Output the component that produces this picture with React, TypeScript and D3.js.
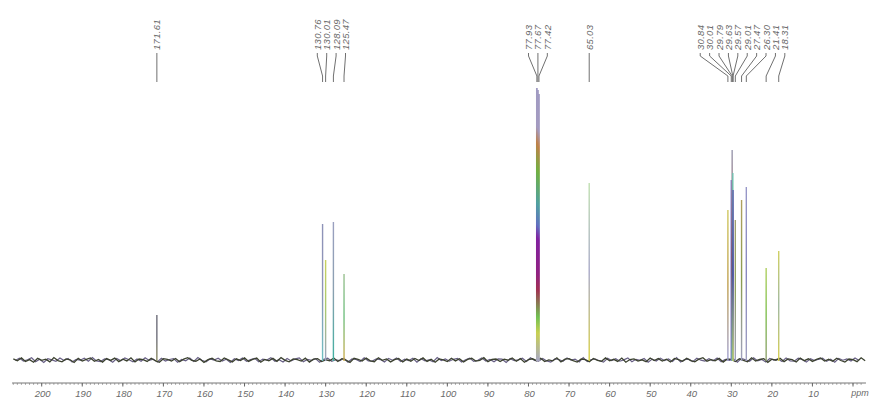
import React from 'react';
import * as d3 from 'd3';

// chemical shifts (ppm), peak heights (arbitrary intensity), labels
const peakShifts = [171.61, 130.76, 130.01, 128.09, 125.47, 77.93, 77.67, 77.42, 65.03, 30.84, 30.01, 29.79, 29.63, 29.57, 29.01, 27.47, 26.3, 21.41, 18.31];
const peakHeights = [45, 136, 100, 138, 86, 272, 270, 266, 177, 150, 180, 210, 187, 170, 140, 160, 173, 92, 109];
const peakLabels = ['171.61', '130.76', '130.01', '128.09', '125.47', '77.93', '77.67', '77.42', '65.03', '30.84', '30.01', '29.79', '29.63', '29.57', '29.01', '27.47', '26.30', '21.41', '18.31'];

const tickValues = [200, 190, 180, 170, 160, 150, 140, 130, 120, 110, 100, 90, 80, 70, 60, 50, 40, 30, 20, 10];
const minorTickValues = d3.range(207, -3, -1);

// baseline noise, one value per ppm from 207 down to -3
const noiseStartPpm = 207;
const noise = [
  1.2, -0.8, 2.1, -1.5, 0.4, -2.2, 1.7, -0.3, 0.9, -1.9,
  2.4, -0.6, -1.8, 1.1, 0.2, -2.5, 1.6, -1.0, 0.7, 2.0,
  -1.3, 0.5, -2.1, 1.4, -0.4, 1.9, -1.6, 0.8, -0.9, 2.2,
  -2.0, 1.0, 0.3, -1.4, 1.8, -0.7, -2.3, 1.3, 0.6, -1.1,
  1.5, -1.7, 0.9, 2.3, -0.5, -1.2, 1.0, -2.4, 0.4, 1.7,
  -0.8, -1.5, 2.0, 0.1, -1.9, 1.2, -0.6, 2.1, -1.4, 0.7,
  1.9, -2.2, 0.5, -0.9, 1.6, -1.3, 2.4, -0.4, -1.8, 1.1,
  0.3, -1.0, 1.8, -2.1, 0.8, 1.4, -1.6, 0.2, -0.7, 2.0,
  -1.5, 1.3, -0.2, -2.4, 1.7, 0.6, -1.1, 1.9, -0.8, -1.7,
  2.2, -0.3, 1.0, -1.9, 0.4, 1.5, -2.0, 0.9, -1.2, 1.6,
  -0.5, 2.1, -1.4, 0.7, -2.2, 1.1, 0.2, -1.6, 1.8, -0.9,
  1.3, -2.0, 0.6, 1.7, -1.1, -0.4, 2.3, -1.8, 0.5, 1.0,
  -1.6, 0.9, -0.2, 2.0, -1.3, 1.4, -2.3, 0.3, 1.2, -0.7,
  1.8, -1.5, 0.1, -0.9, 2.2, -1.9, 0.8, 1.3, -0.6, -2.1,
  1.0, 0.4, -1.7, 1.6, -0.3, -1.2, 2.1, -0.8, 0.7, -1.4,
  1.9, -2.2, 0.5, 1.1, -1.0, 0.2, -1.8, 2.0, -0.5, 1.4,
  -1.1, 0.8, -2.0, 1.5, 0.3, -1.3, 1.7, -0.6, -1.9, 0.9,
  2.3, -1.2, 0.4, -0.8, 1.6, -2.1, 1.0, 0.6, -1.5, 1.2,
  -0.4, -1.8, 2.2, -0.9, 0.5, 1.4, -2.3, 0.8, -0.2, 1.7,
  -1.6, 1.1, 0.3, -2.0, 1.9, -0.7, 1.2, -1.4, 0.6, 2.1,
  -1.0, 0.7, -1.3, 1.8, -0.5, -2.0, 1.0, 0.4, -1.6, 2.2,
  -0.8,
];
// second noise trace, half a ppm offset
const noiseB = [
  -0.6, 1.9, -1.1, 0.3, 2.2, -1.7, 0.8, -2.4, 1.3, 0.1,
  -1.4, 2.0, -0.5, 1.6, -2.1, 0.7, -0.2, 1.8, -1.2, 2.5,
  -0.9, -1.6, 1.2, 0.4, -2.3, 1.5, -0.7, 2.1, 0.2, -1.8,
  1.0, -1.3, 2.3, -0.4, 0.9, -2.0, 1.7, -1.1, 0.5, 1.4,
  -2.2, 0.6, -0.8, 1.9, -1.5, 2.4, -0.3, -1.9, 1.1, 0.0,
  1.8, -1.0, 0.7, -2.5, 1.3, -0.6, 2.0, -1.4, 0.4, 1.6,
  -1.7, 0.9, -0.1, 2.2, -1.2, 0.3, -2.0, 1.5, -0.9, 1.1,
  2.1, -1.8, 0.6, -0.4, 1.4, -2.3, 0.8, 1.9, -1.3, 0.2,
  -0.7, 1.7, -2.1, 1.0, 0.5, -1.5, 2.3, -0.8, -1.1, 1.2,
  0.4, -1.9, 1.6, -0.2, 2.0, -1.6, 0.9, -0.5, 1.8, -2.2,
  1.3, -0.9, 0.1, -1.7, 2.4, -0.6, 1.0, -1.2, 0.7, 1.5,
  -2.0, 0.3, 1.9, -1.4, -0.3, 2.1, -1.0, 0.6, -1.8, 1.1,
  0.8, -2.4, 1.4, -0.7, 0.2, 1.7, -1.5, 2.2, -0.4, -1.1,
  1.6, -0.9, -2.0, 1.2, 0.5, -1.3, 2.0, -0.2, 0.9, -1.9,
  2.3, -1.6, 0.4, 1.0, -0.8, -2.1, 1.8, -0.5, 1.3, -1.2,
  0.1, 2.1, -1.7, 0.7, -0.3, 1.5, -2.3, 0.9, -1.0, 1.9,
  -0.6, 1.1, -1.4, 2.4, -2.0, 0.3, 0.8, -1.6, 1.7, -0.2,
  -1.1, 1.4, -0.7, 2.0, -1.8, 0.6, -0.4, 1.2, -2.2, 1.6,
  0.2, -1.3, 2.2, -0.9, 0.5, -1.9, 1.5, -0.1, 1.0, -1.5,
  2.1, -0.8, -1.2, 1.8, 0.4, -2.1, 1.3, -0.6, 0.7, 1.9,
  -1.4, 0.9, -2.3, 1.6, -0.2, 1.1, -1.0, 2.0, -0.5,
];

// styles (kept apart from the data)
const rainbow = [
  [0, '#a09ac2'], [0.14, '#a39ac0'], [0.2, '#c08048'], [0.3, '#70b040'], [0.42, '#4fa0a0'],
  [0.5, '#6070c0'], [0.55, '#8020a0'], [0.68, '#902080'], [0.74, '#a03050'], [0.84, '#70c050'],
  [0.9, '#c8d050'], [1, '#a8a8c0'],
];
const peakColors = [
  ['#6e6e7a', '#6e6e7a', '#8a8a60'],
  ['#8e93b8', '#8e93b8', '#6fc0c0'],
  ['#c8d060', '#a8c870', '#9aa0c0'],
  ['#9aa0c0', '#8aa0b0', '#40b0a0'],
  ['#9ac090', '#70c080', '#d0b050'],
  null, null, null,
  ['#c0e0b0', '#a8a8c8', '#d8d040'],
  ['#d0c860', '#c0a050', '#a0a0d0'],
  ['#8080d0', '#5050c0', '#8070c0'],
  ['#9a9ab0', '#a05040', '#70c0a0'],
  ['#70c0b0', '#50b090', '#70d0a0'],
  ['#6060b0', '#4030a0', '#c0c060'],
  ['#a0a070', '#90a060', '#a0a0c0'],
  ['#b0a060', '#8a9a50', '#a0a0c0'],
  ['#9898c8', '#8888c0', '#a0a0c0'],
  ['#b0d060', '#80c050', '#90a070'],
  ['#d0d060', '#a0b8a0', '#d8d050'],
];

const W = 879;
const H = 412;
const baseY = 360;
const axisY = 383;

function layoutLabels(xs: number[], gap: number): number[] {
  let clusters = xs.map((x, i) => ({ idx: [i], sum: x }));
  let changed = true;
  while (changed) {
    changed = false;
    for (let i = 0; i < clusters.length - 1; i++) {
      const a = clusters[i];
      const b = clusters[i + 1];
      const aEnd = a.sum / a.idx.length + ((a.idx.length - 1) * gap) / 2;
      const bStart = b.sum / b.idx.length - ((b.idx.length - 1) * gap) / 2;
      if (bStart - aEnd < gap) {
        clusters.splice(i, 2, { idx: a.idx.concat(b.idx), sum: a.sum + b.sum });
        changed = true;
        break;
      }
    }
  }
  const out: number[] = new Array(xs.length);
  clusters.forEach((c) => {
    const n = c.idx.length;
    const mid = c.sum / n;
    c.idx.forEach((id, k) => {
      out[id] = mid + (k - (n - 1) / 2) * gap;
    });
  });
  return out;
}

export default function App() {
  const x = d3.scaleLinear().domain([200, 0]).range([41.7, 853]);
  const y = d3.scaleLinear().domain([0, 272]).range([baseY, 88]);

  const noiseLine = d3
    .line<number>()
    .x((_, i) => x(noiseStartPpm - i))
    .y((d) => y(d));
  const noiseLineB = d3
    .line<number>()
    .x((_, i) => x(noiseStartPpm - 0.5 - i))
    .y((d) => y(d));

  const peakXs = peakShifts.map((p) => x(p));
  const labelXs = layoutLabels(peakXs, 9.4);

  const labelFont = "'Liberation Sans', 'DejaVu Sans', sans-serif";

  return (
    <svg
      width={W}
      height={H}
      style={{ position: 'absolute', left: 0, top: 0, background: '#fff' }}
    >
      <defs>
        {peakShifts.map((p, i) => {
          const stops = peakColors[i]
            ? peakColors[i]!.map((c, k) => [k / 2, c] as [number, string])
            : (rainbow as [number, string][]);
          return (
            <linearGradient
              key={i}
              id={`pk${i}`}
              gradientUnits="userSpaceOnUse"
              x1={0}
              x2={0}
              y1={y(peakHeights[i])}
              y2={baseY}
            >
              {stops.map(([o, c], k) => (
                <stop key={k} offset={o} stopColor={c} />
              ))}
            </linearGradient>
          );
        })}
      </defs>

      {/* baseline noise */}
      <path d={noiseLineB(noiseB) || ''} fill="none" stroke="#4e4470" strokeWidth={1.2} opacity={0.85} />
      <path d={noiseLine(noise) || ''} fill="none" stroke="#3c4230" strokeWidth={1.3} />

      {/* peaks */}
      {peakShifts.map((p, i) => (
        <line
          key={i}
          x1={x(p)}
          x2={x(p)}
          y1={baseY + 1}
          y2={y(peakHeights[i])}
          stroke={`url(#pk${i})`}
          strokeWidth={peakColors[i] ? 1.4 : 1.8}
        />
      ))}

      {/* peak labels and leaders */}
      {peakShifts.map((p, i) => {
        const lx = labelXs[i];
        const px = peakXs[i];
        const d = `M${lx},53 L${lx},56 L${px},76 L${px},82`;
        return (
          <g key={i}>
            <path d={d} fill="none" stroke="#707070" strokeWidth={1} />
            <text
              transform={`translate(${lx},50) rotate(-90)`}
              dominantBaseline="central"
              fontFamily={labelFont}
              fontStyle="italic"
              fontSize={9.5}
              letterSpacing={0.3}
              fill="#6a6a6a"
            >
              {peakLabels[i]}
            </text>
          </g>
        );
      })}

      {/* axis */}
      <line x1={x(207.3)} x2={x(-3.2)} y1={axisY} y2={axisY} stroke="#777" strokeWidth={1} />
      {minorTickValues.map((t) => (
        <line key={t} x1={x(t)} x2={x(t)} y1={axisY} y2={axisY + 1.8} stroke="#888" strokeWidth={0.8} />
      ))}
      {tickValues.concat([0]).map((t) => (
        <line key={`M${t}`} x1={x(t)} x2={x(t)} y1={axisY} y2={axisY + 3.5} stroke="#666" strokeWidth={1} />
      ))}
      {tickValues.map((t) => (
        <text
          key={`L${t}`}
          x={x(t) + 1}
          y={axisY + 14}
          textAnchor="middle"
          fontFamily={labelFont}
          fontStyle="italic"
          fontSize={9.5}
          fill="#6a6a6a"
        >
          {t}
        </text>
      ))}
      <text
        x={x(-1.7)}
        y={axisY + 13}
        textAnchor="middle"
        fontFamily={labelFont}
        fontStyle="italic"
        fontSize={9}
        fill="#6a6a6a"
      >
        ppm
      </text>
    </svg>
  );
}
